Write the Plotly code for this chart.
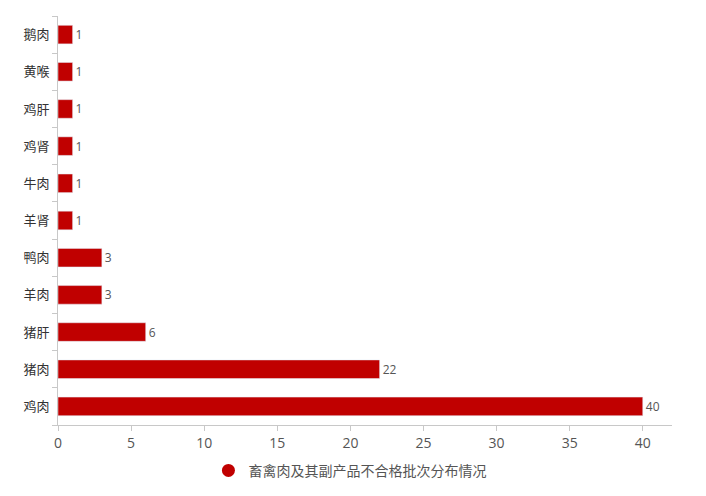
import plotly.graph_objects as go

# categories bottom -> top, as drawn
categories = ['鸡肉', '猪肉', '猪肝', '羊肉', '鸭肉', '羊肾', '牛肉', '鸡肾', '鸡肝', '黄喉', '鹅肉']
counts = [40, 22, 6, 3, 3, 1, 1, 1, 1, 1, 1]
series_name = '畜禽肉及其副产品不合格批次分布情况'
x_ticks = [0, 5, 10, 15, 20, 25, 30, 35, 40]

RED = '#c00000'
FONT = 'Open Sans, Noto Sans CJK SC, Microsoft YaHei, sans-serif'

fig = go.Figure()

fig.add_trace(go.Bar(
    x=counts,
    y=categories,
    orientation='h',
    marker=dict(color=RED),
    text=counts,
    textposition='outside',
    textfont=dict(size=12, color='#555'),
    cliponaxis=False,
    width=0.5,
    showlegend=False,
    hoverinfo='x+y',
))

# legend entry drawn as a round marker
fig.add_trace(go.Scatter(
    x=[None], y=[None],
    mode='markers',
    marker=dict(symbol='circle', size=13, color=RED),
    name=series_name,
    showlegend=True,
))

# page body has an 8px margin, so the figure is a little smaller than the window
fig.update_layout(
    width=698,
    height=488,
    margin=dict(l=50, r=34, t=8, b=71),
    paper_bgcolor='white',
    plot_bgcolor='white',
    font=dict(family=FONT, color='#333'),
    bargap=0.5,
    xaxis=dict(
        range=[0, 42],
        tickvals=x_ticks,
        showgrid=False,
        zeroline=False,
        showline=True,
        linecolor='#c8c8c8',
        ticks='outside',
        ticklen=5,
        tickcolor='#c8c8c8',
        tickfont=dict(size=14, color='#555'),
    ),
    yaxis=dict(
        type='category',
        categoryorder='array',
        categoryarray=categories,
        showgrid=False,
        showline=True,
        linecolor='#c8c8c8',
        ticks='outside',
        tickson='boundaries',
        ticklen=5,
        tickcolor='#c8c8c8',
        ticklabelstandoff=5,
        tickfont=dict(size=13, color='#333'),
    ),
    legend=dict(
        orientation='h',
        x=0.245, xanchor='left',
        y=-0.112, yanchor='middle',
        font=dict(size=14, color='#555'),
        itemwidth=30,
    ),
)

fig.write_html("out.html")
